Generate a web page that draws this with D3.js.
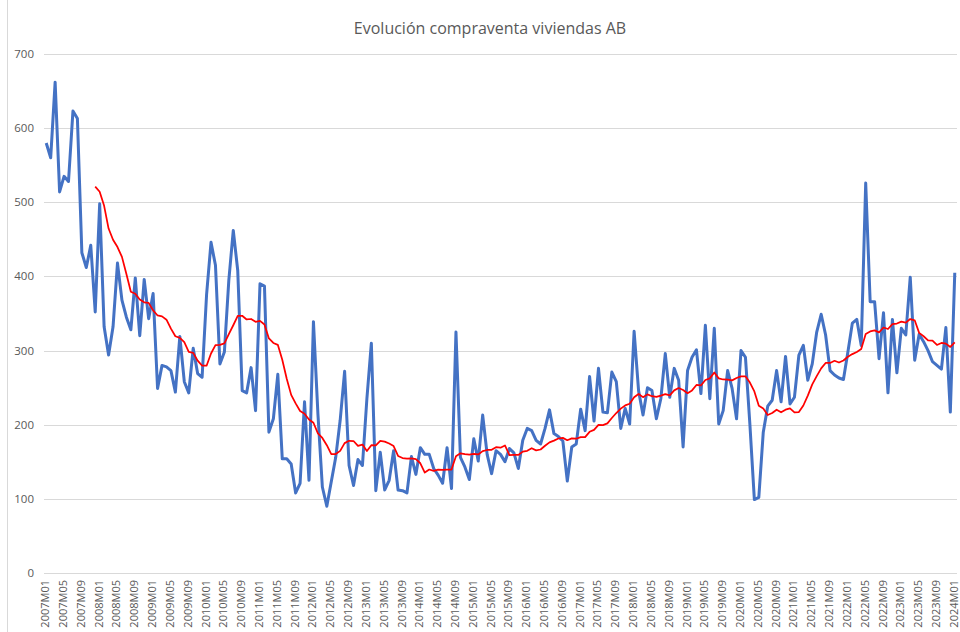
<!DOCTYPE html>
<html lang="es">
<head>
<meta charset="utf-8">
<title>Evolución compraventa viviendas AB</title>
<style>
  body { margin: 0; background: #fff; }
  text { font-family: "Open Sans", "Noto Sans", sans-serif; fill: #595959; }
</style>
</head>
<body>
<div id="chart"></div>
<script src="https://d3js.org/d3.v7.min.js"></script>
<script>
// monthly sales, 2007M01 .. 2024M01
var ventas = [
  580, 560, 662, 514, 535, 528, 623, 613, 432, 412, 442, 352,
  498, 332, 294, 332, 418, 368, 345, 328, 398, 320, 396, 343,
  377, 249, 280, 278, 273, 244, 319, 258, 243, 303, 269, 264,
  375, 446, 415, 282, 298, 395, 462, 408, 246, 243, 277, 219,
  390, 387, 190, 208, 268, 154, 154, 147, 108, 121, 231, 125,
  339, 215, 116, 90, 123, 156, 206, 272, 145, 118, 153, 145,
  235, 310, 111, 163, 112, 125, 165, 112, 111, 108, 157, 133,
  169, 160, 160, 141, 132, 121, 169, 114, 325, 156, 143, 126,
  181, 151, 213, 160, 134, 165, 160, 150, 168, 162, 141, 179,
  195, 192, 179, 174, 195, 220, 188, 184, 178, 124, 170, 174,
  221, 192, 265, 205, 276, 217, 216, 271, 258, 195, 222, 201,
  326, 246, 213, 250, 246, 208, 235, 296, 237, 276, 260, 170,
  273, 291, 301, 242, 334, 235, 330, 201, 219, 273, 249, 208,
  300, 291, 200, 99, 102, 190, 225, 233, 273, 231, 292, 228,
  237, 294, 307, 260, 282, 325, 349, 321, 273, 267, 263, 261,
  298, 337, 342, 307, 526, 366, 366, 289, 351, 243, 342, 270,
  330, 321, 399, 287, 322, 312, 300, 285, 280, 275, 331, 217,
  405
];

var yTicks = [0, 100, 200, 300, 400, 500, 600, 700];
var labelEvery = 4;     // one x label every 4 months
var mediaPeriodo = 12;  // moving average trendline period

var fmt = d3.timeFormat("%YM%m");
var meses = d3.timeMonth.range(new Date(2007, 0, 1), new Date(2024, 1, 1)).map(fmt);

var width = 960, height = 632;
var svg = d3.select("#chart").append("svg")
    .attr("width", width)
    .attr("height", height);

var x = d3.scalePoint().domain(meses).range([44, 957]).padding(0.5);
var y = d3.scaleLinear().domain([0, 700]).range([573, 54]);

// chart border (left edge only visible)
svg.append("line")
    .attr("x1", 7.5).attr("x2", 7.5)
    .attr("y1", 0).attr("y2", height)
    .style("stroke", "#d9d9d9");

svg.append("text")
    .attr("x", 490)
    .attr("y", 34)
    .attr("text-anchor", "middle")
    .style("font-size", "16px")
    .text("Evolución compraventa viviendas AB");

// gridlines
svg.append("g").selectAll("line")
    .data(yTicks)
    .enter().append("line")
    .attr("x1", 44).attr("x2", 957)
    .attr("y1", function (d) { return Math.round(y(d)) + 0.5; })
    .attr("y2", function (d) { return Math.round(y(d)) + 0.5; })
    .style("stroke", "#d9d9d9")
    .style("stroke-width", 1);

// y axis labels
svg.append("g").selectAll("text")
    .data(yTicks)
    .enter().append("text")
    .attr("x", 34)
    .attr("y", function (d) { return y(d); })
    .attr("dy", "0.35em")
    .attr("text-anchor", "end")
    .style("font-size", "11.5px")
    .text(function (d) { return d; });

// x axis labels, rotated
svg.append("g").selectAll("text")
    .data(meses.filter(function (d, i) { return i % labelEvery === 0; }))
    .enter().append("text")
    .attr("transform", function (d) { return "translate(" + (x(d) + 3) + ",580) rotate(-90)"; })
    .attr("text-anchor", "end")
    .style("font-size", "11px")
    .text(function (d) { return d; });

var serie = ventas.map(function (v, i) { return { mes: meses[i], v: v }; });

// 12-month moving average trendline (as Excel draws it)
var media = serie.slice(mediaPeriodo - 1).map(function (d, k) {
    return { mes: d.mes, v: d3.mean(ventas.slice(k, k + mediaPeriodo)) };
});

var line = d3.line()
    .x(function (d) { return x(d.mes); })
    .y(function (d) { return y(d.v); });

svg.append("path")
    .datum(serie)
    .attr("d", line)
    .style("fill", "none")
    .style("stroke", "#4472c4")
    .style("stroke-width", 3)
    .style("stroke-linejoin", "round");

svg.append("path")
    .datum(media)
    .attr("d", line)
    .style("fill", "none")
    .style("stroke", "#ff0000")
    .style("stroke-width", 1.75)
    .style("stroke-linejoin", "round");
</script>
</body>
</html>
